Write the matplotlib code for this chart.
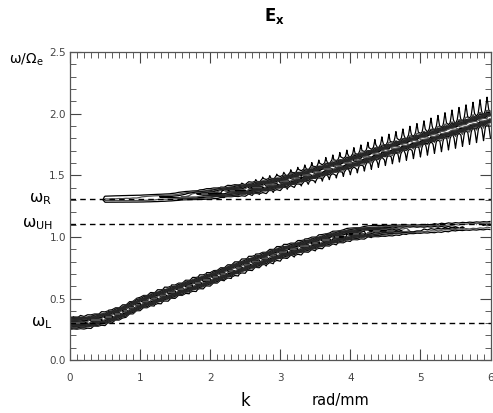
import numpy as np
import matplotlib.pyplot as plt
from matplotlib.ticker import MultipleLocator

# ridge of the upper (R) branch
k_up = [0.45, 0.5, 1.0, 1.5, 2.0, 2.5, 2.75, 3.0, 3.5, 4.0, 4.5, 5.0, 5.5, 6.0]
w_up = [1.305, 1.305, 1.31, 1.325, 1.35, 1.385, 1.41, 1.44, 1.52, 1.605, 1.70, 1.79, 1.88, 1.97]
a_up = [0.0, 0.15, 0.17, 0.22, 0.45, 0.8, 1.0, 1.0, 1.0, 1.0, 1.0, 1.0, 1.0, 1.0]
ped_up = [0, 0, 0, 0, 0.08, 0.12, 0.15, 0.15, 0.18, 0.21, 0.24, 0.27, 0.3, 0.32]

# ridge of the lower (L) branch
k_lo = [0.0, 0.25, 0.5, 0.75, 1.0, 1.5, 2.0, 2.5, 3.0, 3.25, 3.5, 3.75, 4.0, 4.25, 4.5, 5.0, 5.5, 6.0]
w_lo = [0.30, 0.31, 0.34, 0.39, 0.46, 0.56, 0.66, 0.77, 0.87, 0.91, 0.95, 0.99, 1.02, 1.04, 1.05, 1.065, 1.08, 1.095]
a_lo = [1.0, 1.0, 1.0, 1.0, 1.0, 1.0, 1.0, 1.0, 1.0, 1.0, 1.0, 0.95, 0.9, 0.7, 0.45, 0.25, 0.2, 0.2]
ped_lo = [0.08, 0.09, 0.1, 0.12, 0.12, 0.12, 0.12, 0.12, 0.12, 0.11, 0.1, 0.09, 0.07, 0.05, 0.03, 0, 0, 0]

# characteristic frequencies (dashed lines)
res_names = [r'ω$_{\rm R}$', r'ω$_{\rm UH}$', r'ω$_{\rm L}$']
res_vals = [1.307, 1.104, 0.30]

levels = [0.06, 0.12, 0.18, 0.25, 0.32, 0.39, 0.46, 0.53, 0.6, 0.67, 0.74, 0.81, 0.88, 0.96]

kg = np.arange(0, 6.0001, 0.05)
wg = np.arange(0, 2.5001, 0.025)
K, W = np.meshgrid(kg, wg)
odd = (np.arange(len(kg)) % 2).astype(float)


def branch(ks, ws, amps, ped, sig, pw):
    w0 = np.interp(kg, ks, ws)
    a = np.interp(kg, ks, amps)
    p = np.interp(kg, ks, ped)
    d = W - w0
    core = np.exp(-0.5 * (d / sig) ** 2) * (1 - 0.07 * odd)
    # side lobes: above the ridge on odd columns, below it on even ones
    wide = ((d > 0) & (odd > 0)) | ((d < 0) & (odd == 0))
    side = p * np.where(wide, pw / (np.abs(d) + pw), np.exp(-0.5 * (d / sig) ** 2))
    return a * (core + side)


F = branch(k_up, w_up, a_up, ped_up, 0.017, 0.04) + \
    branch(k_lo, w_lo, a_lo, ped_lo, 0.018, 0.04)

fig = plt.figure(figsize=(4.93, 4.13), dpi=100)
ax = fig.add_axes([0.142, 0.128, 0.853, 0.746])

ax.contour(K, W, F, levels=levels, colors=['black', '#505050'], linewidths=0.9)

for v in res_vals:
    ax.axhline(v, color='black', lw=1, dashes=(4, 3))

ax.set_xlim(0, 6)
ax.set_ylim(0, 2.5)
ax.xaxis.set_major_locator(MultipleLocator(1))
ax.xaxis.set_minor_locator(MultipleLocator(0.1))
ax.yaxis.set_major_locator(MultipleLocator(0.5))
ax.yaxis.set_minor_locator(MultipleLocator(0.1))
ax.tick_params(which='both', direction='in', top=True, right=True, colors='#444444', labelsize=7.5)
ax.tick_params(which='major', length=8)
ax.tick_params(which='minor', length=4)
ax.tick_params(axis='x', pad=9)
ax.tick_params(axis='y', pad=3)
ax.xaxis.set_major_formatter(plt.FuncFormatter(lambda v, p: '%d' % v))
ax.yaxis.set_major_formatter(plt.FuncFormatter(lambda v, p: '%.1f' % v))
for s in ax.spines.values():
    s.set_color('#555555')
    s.set_linewidth(0.9)

for name, v in zip(res_names, res_vals):
    ax.text(-0.042, v, name, transform=ax.get_yaxis_transform(), ha='right', va='center', fontsize=11.5)
ax.text(-0.064, 2.44, r'ω/Ω$_{\rm e}$', transform=ax.get_yaxis_transform(), ha='right', va='center', fontsize=10)

fig.text(0.557, 0.962, r'$\mathbf{E}_{\mathbf{x}}$', ha='center', va='center', fontsize=12)
fig.text(0.497, 0.03, 'k', ha='center', va='center', fontsize=12)
fig.text(0.69, 0.03, 'rad/mm', ha='center', va='center', fontsize=10.5)

fig.savefig('out.png', dpi=100)
